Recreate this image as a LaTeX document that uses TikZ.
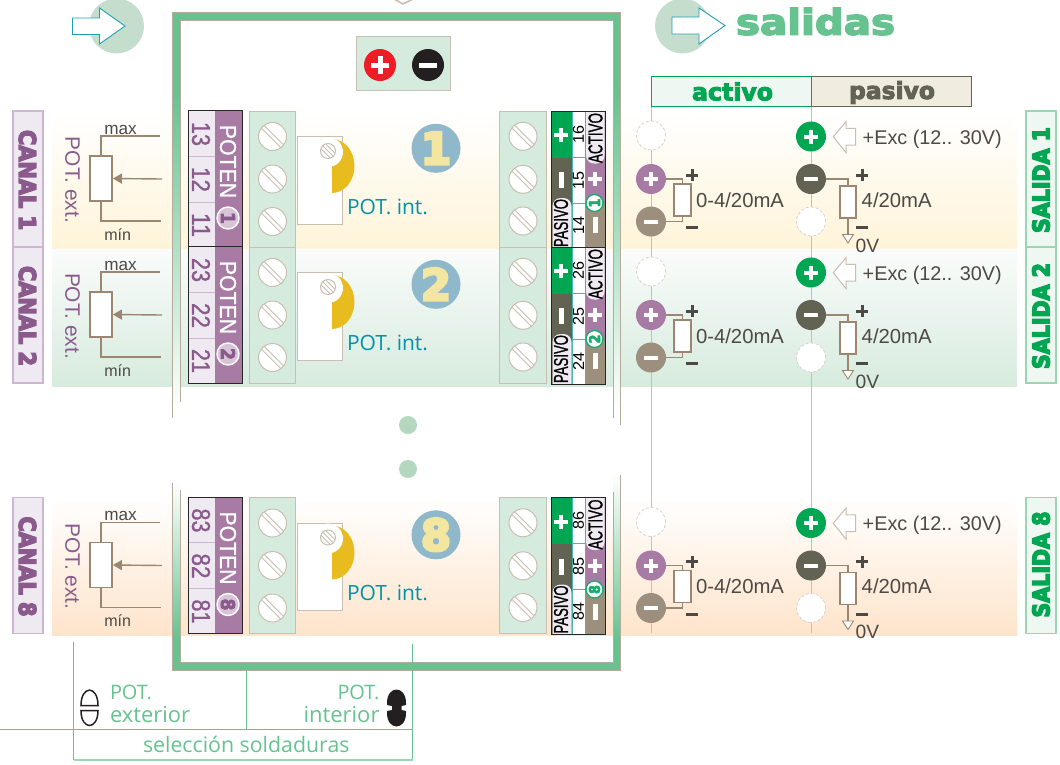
\documentclass[tikz,border=0pt]{standalone}
\usepackage{fontspec}
\usepackage{graphicx}
\usetikzlibrary{arrows.meta}
\setmainfont{Liberation Sans}
\newfontfamily\myrf{Open Sans}
\newfontfamily\hvyf[FakeBold=6.5]{DejaVu Sans Bold}
\newfontfamily\hvys[FakeBold=4]{DejaVu Sans Bold}
\newfontfamily\medf[FakeBold=1.2]{Liberation Sans}
\definecolor{tanL}{HTML}{C9BEB2}
\definecolor{tanW}{HTML}{B5AB9B}
\definecolor{frameG}{HTML}{66C28F}
\definecolor{lgreen}{HTML}{D5EBDD}
\definecolor{purp}{HTML}{A87BA5}
\definecolor{dpurp}{HTML}{8A5A8C}
\definecolor{lpurp}{HTML}{EFE9F2}
\definecolor{bpurp}{HTML}{CDB8D3}
\definecolor{rline}{HTML}{9C8672}
\definecolor{txtd}{HTML}{4D4944}
\definecolor{teal}{HTML}{0093A8}
\definecolor{arrT}{HTML}{1E9FB5}
\definecolor{bgreen}{HTML}{00A651}
\definecolor{dolive}{HTML}{636353}
\definecolor{tanD}{HTML}{9C8F7E}
\definecolor{tealL}{HTML}{4DB6AC}
\definecolor{yel}{HTML}{E8BC1E}
\definecolor{blueC}{HTML}{8FB8CB}
\definecolor{yelT}{HTML}{F3E6A0}
\definecolor{circG}{HTML}{C5DDCD}
\definecolor{dotG}{HTML}{B4D8BF}
\definecolor{sallb}{HTML}{EFF7F2}
\definecolor{salbd}{HTML}{9BD5B2}
\definecolor{blkT}{HTML}{231F20}
\newcommand{\fbx}[3]{\resizebox{#1pt}{#2pt}{#3}}
\newcommand{\fwd}[2]{\resizebox{#1pt}{!}{#2}}
\tikzset{
  lbl/.style={inner sep=0pt,outer sep=0pt},
  screwblk/.style={draw=tanL,line width=1pt,fill=lgreen},
  stripe/.style={draw=tanL,line width=0.9pt},
  resbox/.style={draw=rline,line width=1.8pt,fill=white,inner sep=0pt,minimum width=#1},
  wire/.style={draw=rline,line width=1.4pt},
  rail/.style={draw=tanL,line width=1pt},
  wall/.style={draw=tanW,line width=1pt},
  glab/.style={lbl,text=frameG,font=\myrf},
  tnode/.style={circle,inner sep=0pt,outer sep=0pt,minimum size=30pt},
  dashn/.style={tnode,fill=white,draw=tanL!70,densely dashed,line width=0.8pt,minimum size=29pt},
  bar/.style={draw=white,line width=4pt},
  gbar/.style={draw=txtd,line width=3pt},
  gline/.style={draw=frameG,line width=0.9pt},
}
\newcommand{\myscrew}[2]{%
  \begin{scope}[shift={(#1,#2)}]
    \draw[fill=white,draw=tanL,line width=1pt] (0,0) circle (14);
    \draw[stripe] (-8.4,-11.2) -- (11.2,8.4);
    \draw[stripe] (-11.2,-8.4) -- (8.4,11.2);
  \end{scope}}
\newcommand{\smallscrew}[2]{%
  \begin{scope}[shift={(#1,#2)}]
    \draw[fill=white,draw=tanL,line width=1pt] (0,0) circle (7.5);
    \draw[stripe] (-5.3,-5.3) -- (5.3,5.3);
    \draw[stripe] (-2,-6.8) -- (6.8,2);
    \draw[stripe] (-6.8,-2) -- (2,6.8);
  \end{scope}}
\newcommand{\chanrow}[3]{% offset, digit, salida text centre
\begin{scope}[shift={(0,#1)}]
  % canal label
  \node[lbl,draw=bpurp,line width=1.5pt,fill=lpurp,minimum width=30pt,minimum height=136pt] (can#2) at (28,179) {};
  \node[lbl,rotate=-90,text=dpurp] (cant#2) at (27.5,180) {\fbx{100}{17}{\hvyf CANAL #2}};
  % external pot
  \node[lbl,rotate=-90,text=dpurp] (ext#2) at (72.5,180) {\fwd{86}{POT. ext.}};
  \node[resbox=22pt,minimum height=45pt] (rext#2) at (101,178.5) {};
  \coordinate (pmax#2) at (160,136);
  \coordinate (pmin#2) at (160.5,221);
  \coordinate (parr#2) at (162,179);
  \draw[wire] (rext#2.north) |- (pmax#2);
  \draw[wire] (rext#2.south) |- (pmin#2);
  \draw[wire,-{Triangle[length=9pt,width=10pt]}] (parr#2) -- (rext#2.east);
  \node[lbl,anchor=base west,text=txtd] (tmax#2) at (104.3,134) {\fwd{32.4}{max}};
  \node[lbl,anchor=base west,text=txtd] (tmin#2) at (104.3,240) {\fwd{26.7}{mín}};
  % left terminal
  \fill[lpurp] (188.5,110.5) rectangle (214.5,247);
  \fill[purp] (214.5,110.5) rectangle (242,247);
  \draw[bpurp,line width=1pt] (188.5,156) -- (214.5,156) (188.5,202) -- (214.5,202);
  \draw[black!85,line width=1pt] (188.5,110.5) rectangle (242,247);
  \node[lbl,rotate=-90,text=dpurp] (n#2a) at (201,134) {\fbx{24}{18}{\medf #23}};
  \node[lbl,rotate=-90,text=dpurp] (n#2b) at (201,179.5) {\fbx{25}{18}{\medf #22}};
  \node[lbl,rotate=-90,text=dpurp] (n#2c) at (201,225) {\fbx{24}{18}{\medf #21}};
  \node[lbl,rotate=-90,text=white] (pot#2) at (228,161.5) {\fbx{73}{16}{\medf POTEN}};
  \node[circle,draw=white,line width=1.4pt,fill=purp!45,minimum size=22pt,inner sep=0pt] (cpot#2) at (228,218) {};
  \node[lbl,rotate=-90,text=dpurp] at (cpot#2.center) {\fbx{12}{14}{\hvys #2}};
  % screw block left
  \draw[screwblk] (249,111) rectangle (295,247);
  \myscrew{272.5}{136.5}\myscrew{272.5}{179}\myscrew{272.5}{221.5}
  % internal pot
  \draw[fill=white,draw=tanL,line width=1pt] (297,136.5) rectangle (342,224);
  \fill[yel] (332,139) .. controls (344.4,139) and (354.5,151) .. (354.5,166) .. controls (354.5,181) and (344.4,193) .. (332,193) -- cycle;
  \fill[white] (328,152) circle (15);
  \smallscrew{328}{151}
  \node[lbl,anchor=base west,text=teal] (pint#2) at (347,214) {\fwd{81}{\myrf POT. int.}};
  % number disc
  \node[circle,fill=blueC,minimum size=49pt,inner sep=0pt] (disc#2) at (436,148.3) {};
  \node[lbl,text=yelT] at (disc#2.center) {\resizebox{!}{32pt}{\hvyf #2}};
  % screw block right
  \draw[screwblk] (499.5,111) rectangle (546,247);
  \myscrew{523}{136.3}\myscrew{523}{179.3}\myscrew{523}{221}
  % right terminal
  \fill[bgreen] (551,111) rectangle (572,157.5);
  \fill[dolive] (551,157.5) rectangle (572,248);
  \fill[white] (572,111) rectangle (585.5,248);
  \fill[purp] (585.5,111) rectangle (605,203);
  \fill[tanD] (585.5,203) rectangle (605,248);
  \fill[lpurp] (586,111) {[rounded corners=8pt] -- (586,163.5) -- (604.5,163.5)} -- (604.5,111) -- cycle;
  \fill[lpurp] (552.5,248) {[rounded corners=8pt] -- (552.5,198) -- (571.5,198)} -- (571.5,248) -- cycle;
  \draw[tealL,line width=1pt] (572,111) -- (572,248) (585.5,111) -- (585.5,248) (572,157) -- (585.5,157) (572,203) -- (585.5,203);
  \draw[black!85,line width=1pt] (551,111) rectangle (605,248);
  \draw[bar] (554,135) -- (568,135) (561,128) -- (561,142);
  \draw[bar,line width=5pt] (561,172) -- (561,188);
  \draw[bar] (588,179) -- (602,179) (595,172) -- (595,186);
  \draw[bar,line width=5pt] (595,217) -- (595,233);
  \node[lbl,rotate=90,text=black] (act#2) at (595.5,138) {\fbx{50}{14}{\medf ACTIVO}};
  \node[lbl,rotate=90,text=black] (pas#2) at (561,223) {\fbx{48}{14}{\medf PASIVO}};
  \node[lbl,rotate=90,text=black] (o#2a) at (578.5,134) {\fbx{18}{11}{#26}};
  \node[lbl,rotate=90,text=black] (o#2b) at (578.5,180) {\fbx{18}{11}{#25}};
  \node[lbl,rotate=90,text=black] (o#2c) at (578.5,225) {\fbx{18}{11}{#24}};
  \node[circle,draw=bgreen!70!tealL,line width=1.3pt,fill=white,minimum size=17pt,inner sep=0pt] (cout#2) at (594.5,203) {};
  \node[lbl,rotate=90,text=bgreen!70!tealL] at (cout#2.center) {\fbx{9}{11}{\hvys #2}};
  % active output
  \node[dashn] (ae#2) at (651,135.5) {};
  \node[tnode,fill=purp] (ap#2) at (651,179) {};
  \node[tnode,fill=tanD] (am#2) at (651,221.5) {};
  \draw[bar] ([xshift=-7pt]ap#2.center) -- ([xshift=7pt]ap#2.center) ([yshift=-7pt]ap#2.center) -- ([yshift=7pt]ap#2.center);
  \draw[bar] ([xshift=-7pt]am#2.center) -- ([xshift=7pt]am#2.center);
  \node[resbox=16.5pt,minimum height=32pt] (ra#2) at (682.5,200) {};
  \draw[wire] (ap#2.east) -| (ra#2.north);
  \draw[wire] (am#2.east) -| (ra#2.south);
  \draw[gbar] (686,175) -- (698,175) (692,169) -- (692,181);
  \draw[gbar] (686,227.5) -- (698,227.5);
  \node[lbl,anchor=base west,text=txtd] (va#2) at (696,207.3) {\fwd{88}{0-4/20mA}};
  % passive output
  \node[tnode,fill=bgreen] (pp#2) at (811,136.5) {};
  \node[tnode,fill=dolive] (pm#2) at (811,179) {};
  \node[dashn] (pe#2) at (811,221.5) {};
  \draw[bar] ([xshift=-7pt]pp#2.center) -- ([xshift=7pt]pp#2.center) ([yshift=-7pt]pp#2.center) -- ([yshift=7pt]pp#2.center);
  \draw[bar] ([xshift=-7pt]pm#2.center) -- ([xshift=7pt]pm#2.center);
  \node[resbox=16pt,minimum height=32pt] (rp#2) at (848,202) {};
  \draw[wire] (pm#2.east) -| (rp#2.north);
  \coordinate (gnd#2) at (848,234.5);
  \draw[wire] (rp#2.south) -- (gnd#2);
  \draw[draw=rline,line width=0.9pt,fill=white] (842.5,234.5) -- (853.5,234.5) -- (848,243) -- cycle;
  \draw[gbar] (856,175) -- (868,175) (862,169) -- (862,181);
  \draw[gbar] (856,227.5) -- (868,227.5);
  \node[lbl,anchor=base west,text=txtd] (vp#2) at (861.7,207.3) {\fwd{70}{4/20mA}};
  \node[lbl,anchor=base west,text=txtd] (zv#2) at (855.7,252) {\fwd{23.5}{0V}};
  \draw[draw=tanL,line width=1pt,fill=white] (833.3,136.7) -- (846,121.7) -- (846,128.3) -- (855.7,128.3) -- (855.7,145) -- (846,145) -- (846,152.7) -- cycle;
  \node[lbl,anchor=base west,text=txtd] (exc#2) at (862.7,144.3) {\fwd{139}{+Exc (12.. 30V)}};
  % salida label
  \node[lbl,draw=salbd,line width=1.6pt,fill=sallb,minimum width=30pt,minimum height=136pt] (sal#2) at (1041,179) {};
  \node[lbl,rotate=90,text=bgreen] (salt#2) at (1041,#3) {\fbx{106}{17}{\hvyf SALIDA #2}};
\end{scope}}
\begin{document}
\begin{tikzpicture}[x=1pt,y=-1pt]
\useasboundingbox (0,0) rectangle (1060,764);
% bands
\shade[top color=white,bottom color={rgb,255:red,255;green,244;blue,217}] (52,111) rectangle (1017,249);
\shade[top color={rgb,255:red,250;green,252;blue,251},bottom color={rgb,255:red,215;green,235;blue,222}] (52,249) rectangle (1017,386);
\shade[top color=white,bottom color={rgb,255:red,254;green,228;blue,203}] (52,497) rectangle (1017,635);
% frame
\fill[frameG] (172.5,12) rectangle (620.5,20);
\fill[frameG] (172.5,662) rectangle (620.5,670);
\fill[frameG] (172.5,12) rectangle (180,90);
\fill[frameG] (613,12) rectangle (620.5,90);
\shade[top color=frameG,bottom color=white] (172.5,90) rectangle (180,410);
\shade[top color=frameG,bottom color=white] (613,90) rectangle (620.5,410);
\shade[top color=white,bottom color=frameG] (172.5,483) rectangle (180,640);
\shade[top color=white,bottom color=frameG] (613,475) rectangle (620.5,640);
\fill[frameG] (172.5,640) rectangle (180,670);
\fill[frameG] (613,640) rectangle (620.5,670);
\draw[wall] (172.5,418) -- (172.5,12) -- (620.5,12) -- (620.5,425);
\draw[wall] (180,402) -- (180,20) -- (613,20) -- (613,418);
\draw[wall] (172.5,483) -- (172.5,670) -- (620.5,670) -- (620.5,475);
\draw[wall] (180,490) -- (180,662) -- (613,662) -- (613,492);
\draw[draw=tanL,line width=1.6pt] (395,-0.5) -- (403,4) -- (412,-0.5);
% arrows top
\node[circle,fill=circG,minimum size=55pt,inner sep=0pt] (cin) at (116.5,26) {};
\draw[draw=arrT,line width=0.9pt,fill=white] (72.5,18) -- (99.5,18) -- (99.5,8) -- (125,26) -- (99.5,44) -- (99.5,34.5) -- (72.5,34.5) -- cycle;
\node[circle,fill=circG,minimum size=55pt,inner sep=0pt] (cout) at (682.5,26) {};
\draw[draw=arrT,line width=0.9pt,fill=white] (672,17) -- (699,17) -- (699,8) -- (725,25.5) -- (699,44) -- (699,34) -- (672,34) -- cycle;
\node[lbl,text=frameG] (sal) at (815.5,21.5) {\fbx{159}{27}{\hvys salidas}};
% +/- box
\node[lbl,draw=tanL,line width=1pt,fill=lgreen,minimum width=94pt,minimum height=54.5pt] (psbox) at (403.7,63.7) {};
\node[circle,fill={rgb,255:red,238;green,28;blue,37},minimum size=32pt,inner sep=0pt] (pluspw) at (380,65) {};
\node[circle,fill=blkT,minimum size=32pt,inner sep=0pt] (minuspw) at (428,65) {};
\draw[bar,line width=5pt] ([xshift=-9pt]pluspw.center) -- ([xshift=9pt]pluspw.center) ([yshift=-9pt]pluspw.center) -- ([yshift=9pt]pluspw.center);
\draw[bar,line width=5pt] ([xshift=-9pt]minuspw.center) -- ([xshift=9pt]minuspw.center);
% header
\node[lbl,draw=bgreen,line width=1pt,fill=sallb,minimum width=160pt,minimum height=30.5pt] (hact) at (731,91.7) {};
\node[lbl,draw=dolive,line width=1pt,fill={rgb,255:red,240;green,236;blue,224},minimum width=160pt,minimum height=30.5pt] (hpas) at (891,91.7) {};
\draw[bgreen,line width=1pt] (hact.north east) -- (hact.south east);
\node[lbl,text=bgreen] (tact) at (732.5,91.5) {\resizebox{81pt}{!}{\hvys activo}};
\node[lbl,text=dolive] (tpas) at (892,92.5) {\resizebox{86pt}{!}{\hvys pasivo}};
% rails
\coordinate (ra1end) at (651,633);
\coordinate (ra2end) at (811,633);
\draw[rail] (hact.south west) -- (ra1end);
\draw[rail] (hact.south east) -- (ra2end);
% dots
\node[circle,fill=dotG,minimum size=18pt,inner sep=0pt] (dot1) at (408,425) {};
\node[circle,fill=dotG,minimum size=18pt,inner sep=0pt] (dot2) at (408,469) {};
% rows
\chanrow{0}{1}{180}
\chanrow{136}{2}{180}
\chanrow{386.5}{8}{178}
% bottom
\coordinate (bl1) at (73.5,642);
\coordinate (bl2) at (73.5,760);
\coordinate (br1) at (412.5,644);
\coordinate (br2) at (412.5,760);
\coordinate (bm1) at (246.5,670);
\coordinate (bm2) at (246.5,729);
\coordinate (bh1) at (0,729);
\coordinate (bh2) at (412.5,729);
\draw[gline] (bl1) -- (bl2);
\draw[gline] (br1) -- (br2);
\draw[gline] (bm1) -- (bm2);
\draw[gline] (bh1) -- (bh2);
\draw[draw=salbd,line width=1.4pt] (bl2) -- (br2);
\node[glab,anchor=base west] (t1) at (110,699) {\fwd{42}{POT.}};
\node[glab,anchor=base west] (t2) at (110,722) {\fwd{80}{exterior}};
\node[glab,anchor=base east] (t3) at (379.5,699) {\fwd{42}{POT.}};
\node[glab,anchor=base east] (t4) at (379.5,722) {\fwd{76}{interior}};
\node[glab,anchor=base west] (t5) at (143,752) {\fwd{206.5}{selección soldaduras}};
\draw[draw=blkT,line width=1.5pt] (81,705.5) .. controls (81,685) and (98,685) .. (98,705.5) -- cycle;
\draw[draw=blkT,line width=1.5pt] (81,710.5) -- (98,710.5) .. controls (98,730.5) and (81,730.5) .. (81,710.5) -- cycle;
\fill[blkT] (387,703) .. controls (387,685) and (406,685) .. (406,703) -- (406,705) -- (401.5,706) -- (401.5,710) -- (406,711) -- (406,713) .. controls (406,731) and (387,731) .. (387,713) -- (387,711) -- (392,710) -- (392,706) -- (387,705) -- cycle;
\end{tikzpicture}
\end{document}
